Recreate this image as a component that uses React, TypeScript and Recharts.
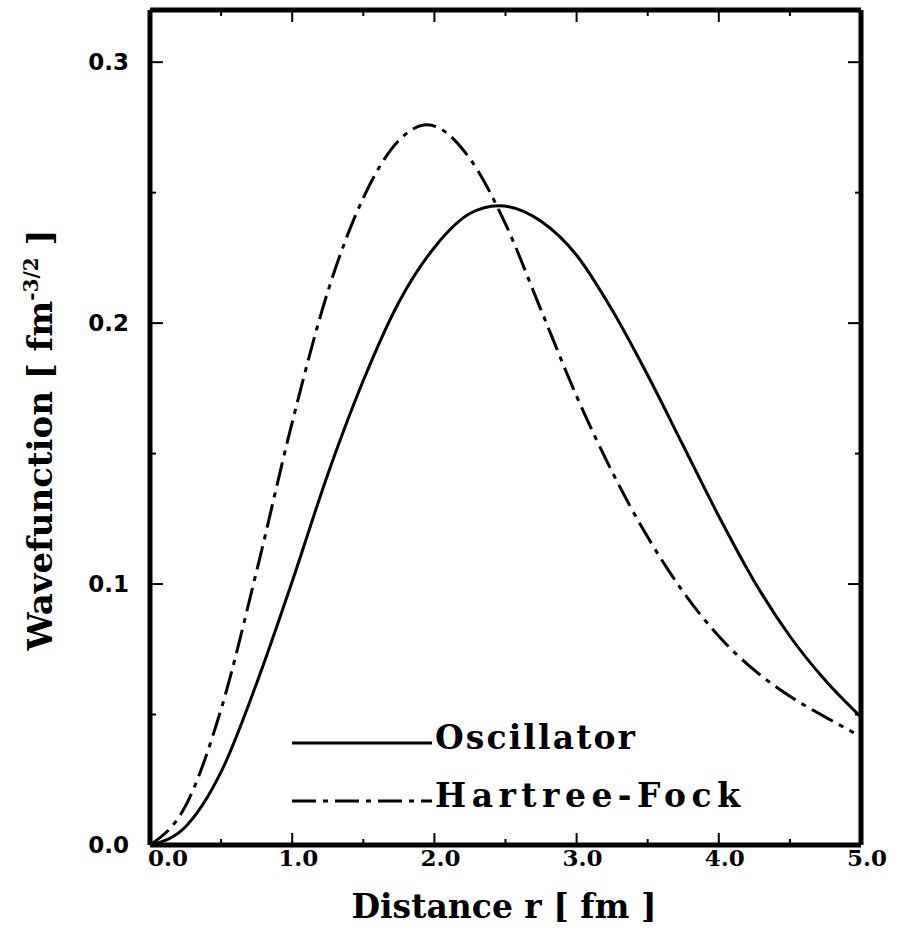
import { LineChart, Line, XAxis, YAxis, Legend } from 'recharts';

// radial wavefunctions
const rOsc = [0, 0.25, 0.5, 0.75, 1.0, 1.25, 1.5, 1.75, 2.0, 2.25, 2.45, 2.75, 3.0, 3.25, 3.5, 3.75, 4.0, 4.25, 4.5, 4.75, 5.0];
const psiOsc = [0, 0.007, 0.028, 0.062, 0.101, 0.142, 0.178, 0.208, 0.229, 0.242, 0.245, 0.239, 0.226, 0.205, 0.18, 0.153, 0.126, 0.101, 0.08, 0.063, 0.049];
const rHF = [0, 0.25, 0.5, 0.75, 1.0, 1.25, 1.5, 1.75, 1.95, 2.25, 2.5, 2.75, 3.0, 3.25, 3.5, 3.75, 4.0, 4.25, 4.5, 4.75, 4.95];
const psiHF = [0, 0.015, 0.052, 0.105, 0.162, 0.212, 0.248, 0.27, 0.276, 0.263, 0.238, 0.205, 0.172, 0.143, 0.118, 0.097, 0.08, 0.067, 0.057, 0.049, 0.043];

const xTicks = [0, 0.5, 1, 1.5, 2, 2.5, 3, 3.5, 4, 4.5, 5];
const yTicks = [0, 0.05, 0.1, 0.15, 0.2, 0.25, 0.3];

const oscData = rOsc.map((r, i) => ({ r, psi: psiOsc[i] }));
const hfData = rHF.map((r, i) => ({ r, psi: psiHF[i] }));

const isMajor = (v: number, step: number) => Math.abs(v / step - Math.round(v / step)) < 1e-6;

const BottomTick = ({ x, y, payload }: any) => {
  const v = payload.value;
  const major = isMajor(v, 1);
  return (
    <g>
      <line x1={x} y1={y} x2={x} y2={y - (major ? 12 : 6)} stroke="#000" strokeWidth={2} />
      {major && (
        <text x={x + (v === 0 ? 18 : 6)} y={y + 21} textAnchor="middle" fontFamily="DejaVu Serif" fontWeight="bold" fontSize={23} fill="#000">
          {v.toFixed(1)}
        </text>
      )}
    </g>
  );
};

const TopTick = ({ x, y, payload }: any) => {
  const major = isMajor(payload.value, 1);
  return <line x1={x} y1={y} x2={x} y2={y + (major ? 12 : 6)} stroke="#000" strokeWidth={2} />;
};

const LeftTick = ({ x, y, payload }: any) => {
  const v = payload.value;
  const major = isMajor(v, 0.1);
  return (
    <g>
      <line x1={x} y1={y} x2={x + (major ? 13 : 6)} y2={y} stroke="#000" strokeWidth={2} />
      {major && (
        <text x={x - 21} y={y + 8} textAnchor="end" fontFamily="DejaVu Sans" fontWeight="bold" fontSize={23} fill="#000">
          {v.toFixed(1)}
        </text>
      )}
    </g>
  );
};

const RightTick = ({ x, y, payload }: any) => {
  const major = isMajor(payload.value, 0.1);
  return <line x1={x} y1={y} x2={x - (major ? 13 : 6)} y2={y} stroke="#000" strokeWidth={2} />;
};

const XTitle = () => (
  <text x={504} y={918} textAnchor="middle" fontFamily="DejaVu Serif" fontWeight="bold" fontSize={33} fill="#000">
    Distance r [ fm ]
  </text>
);

const YTitle = () => (
  <text x={52} y={440} transform="rotate(-90, 52, 440)" textAnchor="middle" fontFamily="DejaVu Serif" fontWeight="bold" fontSize={34} fill="#000">
    Wavefunction [ fm
    <tspan dy={-14} fontSize={20}>-3/2</tspan>
    <tspan dy={14}> ]</tspan>
  </text>
);

const LegendBox = () => (
  <svg width={520} height={120}>
    <line x1={7} y1={38} x2={147} y2={38} stroke="#000" strokeWidth={3} />
    <text x={150} y={44} fontFamily="DejaVu Serif" fontWeight="bold" fontSize={33} textLength={200} lengthAdjust="spacing" fill="#000">
      Oscillator
    </text>
    <line x1={7} y1={96} x2={147} y2={96} stroke="#000" strokeWidth={3} strokeDasharray="24 7 5 7" />
    <text x={150} y={102} fontFamily="DejaVu Serif" fontWeight="bold" fontSize={33} textLength={305} lengthAdjust="spacing" fill="#000">
      Hartree-Fock
    </text>
  </svg>
);

export default function App() {
  return (
    <div style={{ position: 'absolute', left: 0, top: 0, background: '#fff' }}>
      <LineChart width={901} height={934} margin={{ top: 9, right: 39, bottom: 0, left: 0 }}>
        <XAxis
          xAxisId="b"
          dataKey="r"
          type="number"
          domain={[0, 5]}
          allowDataOverflow
          ticks={xTicks}
          interval={0}
          height={89}
          tickSize={0}
          tickMargin={0}
          tickLine={false}
          tick={<BottomTick />}
          axisLine={{ stroke: '#000', strokeWidth: 5 }}
          label={XTitle}
        />
        <XAxis
          xAxisId="t"
          dataKey="r"
          orientation="top"
          type="number"
          domain={[0, 5]}
          allowDataOverflow
          ticks={xTicks}
          interval={0}
          height={1}
          tickSize={0}
          tickMargin={0}
          tickLine={false}
          tick={<TopTick />}
          axisLine={{ stroke: '#000', strokeWidth: 5 }}
        />
        <YAxis
          yAxisId="l"
          type="number"
          domain={[0, 0.32]}
          allowDataOverflow
          ticks={yTicks}
          interval={0}
          width={150}
          tickSize={0}
          tickMargin={0}
          tickLine={false}
          tick={<LeftTick />}
          axisLine={{ stroke: '#000', strokeWidth: 5 }}
          label={YTitle}
        />
        <YAxis
          yAxisId="rt"
          orientation="right"
          type="number"
          domain={[0, 0.32]}
          allowDataOverflow
          ticks={yTicks}
          interval={0}
          width={1}
          tickSize={0}
          tickMargin={0}
          tickLine={false}
          tick={<RightTick />}
          axisLine={{ stroke: '#000', strokeWidth: 5 }}
        />
        <Legend
          layout="vertical"
          align="center"
          verticalAlign="middle"
          content={LegendBox}
          wrapperStyle={{ position: 'absolute', left: 285, top: 705, width: 520 }}
        />
        <Line
          xAxisId="b"
          yAxisId="l"
          data={oscData}
          dataKey="psi"
          type="monotone"
          stroke="#000"
          strokeWidth={3}
          dot={false}
          isAnimationActive={false}
        />
        <Line
          xAxisId="b"
          yAxisId="l"
          data={hfData}
          dataKey="psi"
          type="monotone"
          stroke="#000"
          strokeWidth={3}
          strokeDasharray="24 7 5 7"
          dot={false}
          isAnimationActive={false}
        />
      </LineChart>
    </div>
  );
}
